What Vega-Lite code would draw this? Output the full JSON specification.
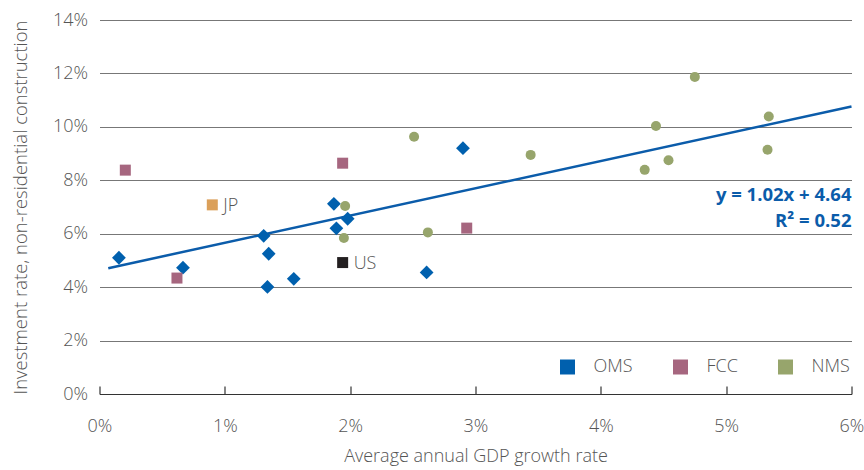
{
  "$schema": "https://vega.github.io/schema/vega-lite/v6.json",
  "width": 752,
  "height": 374,
  "autosize": {"type": "none"},
  "padding": {"left": 99.5, "top": 20, "right": 12.5, "bottom": 76},
  "config": {
    "view": {"stroke": null},
    "font": "Open Sans",
    "text": {"font": "Open Sans"}
  },
  "data": {
    "values": [
      {"x": 0.155, "y": 5.1, "group": "OMS"},
      {"x": 0.666, "y": 4.73, "group": "OMS"},
      {"x": 1.31, "y": 5.92, "group": "OMS"},
      {"x": 1.35, "y": 5.25, "group": "OMS"},
      {"x": 1.34, "y": 4.01, "group": "OMS"},
      {"x": 1.55, "y": 4.31, "group": "OMS"},
      {"x": 1.87, "y": 7.12, "group": "OMS"},
      {"x": 1.89, "y": 6.2, "group": "OMS"},
      {"x": 1.98, "y": 6.56, "group": "OMS"},
      {"x": 2.61, "y": 4.55, "group": "OMS"},
      {"x": 2.9, "y": 9.2, "group": "OMS"},
      {"x": 0.206, "y": 8.38, "group": "FCC"},
      {"x": 0.618, "y": 4.34, "group": "FCC"},
      {"x": 1.94, "y": 8.64, "group": "FCC"},
      {"x": 2.93, "y": 6.21, "group": "FCC"},
      {"x": 0.9, "y": 7.08, "group": "JP", "label": "JP"},
      {"x": 1.94, "y": 4.92, "group": "US", "label": "US"},
      {"x": 1.96, "y": 7.04, "group": "NMS"},
      {"x": 1.95, "y": 5.84, "group": "NMS"},
      {"x": 2.51, "y": 9.63, "group": "NMS"},
      {"x": 2.62, "y": 6.05, "group": "NMS"},
      {"x": 3.44, "y": 8.95, "group": "NMS"},
      {"x": 4.75, "y": 11.87, "group": "NMS"},
      {"x": 4.44, "y": 10.03, "group": "NMS"},
      {"x": 4.35, "y": 8.39, "group": "NMS"},
      {"x": 4.54, "y": 8.75, "group": "NMS"},
      {"x": 5.34, "y": 10.39, "group": "NMS"},
      {"x": 5.33, "y": 9.14, "group": "NMS"}
    ]
  },
  "encoding": {
    "x": {
      "field": "x",
      "type": "quantitative",
      "scale": {"domain": [0, 6], "nice": false, "zero": false},
      "axis": {
        "values": [0, 1, 2, 3, 4, 5, 6],
        "labelExpr": "datum.value + '%'",
        "labelFlush": false,
        "grid": false,
        "domain": false,
        "offset": -8,
        "ticks": true,
        "tickColor": "#333333",
        "tickWidth": 1.2,
        "tickSize": 8,
        "labelPadding": 23,
        "labelFontSize": 18,
        "labelFontWeight": 300,
        "labelColor": "#555555",
        "labelFont": "Open Sans",
        "title": "Average annual GDP growth rate",
        "titleFont": "Open Sans",
        "titleFontSize": 18,
        "titleFontWeight": 300,
        "titleColor": "#555555",
        "titlePadding": 12
      }
    },
    "y": {
      "field": "y",
      "type": "quantitative",
      "scale": {"domain": [0, 14], "nice": false},
      "axis": {
        "values": [0, 2, 4, 6, 8, 10, 12, 14],
        "labelExpr": "datum.value + '%'",
        "grid": true,
        "gridColor": {"condition": {"test": "datum.value === 0", "value": "#333333"}, "value": "#777777"},
        "gridWidth": 1.2,
        "domain": false,
        "ticks": false,
        "labelPadding": 12,
        "labelFontSize": 18,
        "labelFontWeight": 300,
        "labelColor": "#555555",
        "labelFont": "Open Sans",
        "title": "Investment rate, non-residential construction",
        "titleFont": "Open Sans",
        "titleFontSize": 18.5,
        "titleFontWeight": 300,
        "titleColor": "#555555",
        "titlePadding": 22
      }
    }
  },
  "layer": [
    {
      "data": {"values": [{"x": 0.07, "y": 4.71}, {"x": 6, "y": 10.76}]},
      "mark": {"type": "line", "color": "#0B5CAA", "strokeWidth": 2.5},
      "encoding": {}
    },
    {
      "transform": [{"filter": "datum.group === 'OMS'"}],
      "mark": {"type": "point", "shape": "diamond", "filled": true, "size": 190, "opacity": 1},
      "encoding": {
        "color": {
          "field": "group",
          "type": "nominal",
          "scale": {
            "domain": ["OMS", "FCC", "NMS", "JP", "US"],
            "range": ["#0060AE", "#A6667F", "#97A56C", "#DBA05A", "#231F20"]
          },
          "legend": {
            "values": ["OMS", "FCC", "NMS"],
            "orient": "none",
            "legendX": 459,
            "legendY": 338,
            "direction": "horizontal",
            "symbolType": "square",
            "symbolSize": 225,
            "symbolOpacity": 1,
            "symbolStrokeWidth": 0,
            "labelFontSize": 18,
            "labelFontWeight": 300,
            "labelColor": "#555555",
            "labelFont": "Open Sans",
            "labelOffset": 17,
            "columnPadding": 38,
            "title": null
          }
        }
      }
    },
    {
      "transform": [{"filter": "datum.group === 'FCC' || datum.group === 'JP' || datum.group === 'US'"}],
      "mark": {"type": "point", "shape": "square", "filled": true, "size": 121, "opacity": 1},
      "encoding": {"color": {"field": "group", "type": "nominal"}}
    },
    {
      "transform": [{"filter": "datum.group === 'NMS'"}],
      "mark": {"type": "circle", "size": 100, "opacity": 1},
      "encoding": {"color": {"field": "group", "type": "nominal"}}
    },
    {
      "transform": [{"filter": "isValid(datum.label)"}],
      "mark": {"type": "text", "align": "left", "baseline": "middle", "dx": 11, "dy": 1, "fontSize": 18, "fontWeight": 300, "color": "#555555", "font": "Open Sans"},
      "encoding": {"text": {"field": "label"}}
    },
    {
      "data": {"values": [
        {"x": 6, "y": 7.21, "t": "y = 1.02x + 4.64"},
        {"x": 6, "y": 6.25, "t": "R² = 0.52"}
      ]},
      "mark": {"type": "text", "align": "right", "baseline": "alphabetic", "fontSize": 18.5, "fontWeight": "bold", "color": "#0B5CAA", "font": "Open Sans"},
      "encoding": {"text": {"field": "t"}}
    }
  ]
}
